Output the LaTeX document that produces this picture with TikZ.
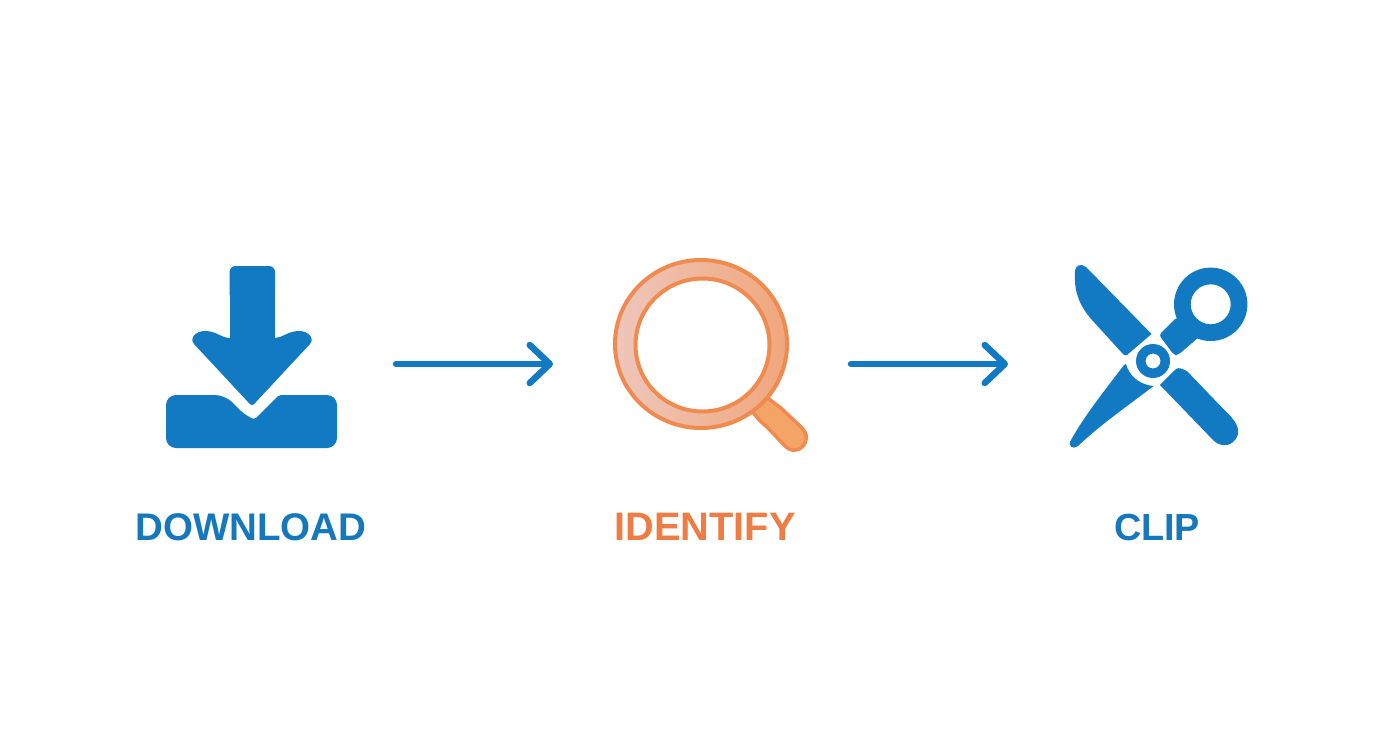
\documentclass[tikz,border=0pt]{standalone}
\usepackage{fontspec}
\setmainfont{Liberation Sans}
\usetikzlibrary{arrows.meta}
\definecolor{iconblue}{HTML}{1279C3}
\definecolor{labelblue}{HTML}{1678BC}
\definecolor{iconorange}{HTML}{F08A4E}
\definecolor{labelorange}{HTML}{EE7D45}
\definecolor{lensA}{HTML}{EEC6BC}
\definecolor{lensB}{HTML}{F0A77C}
\definecolor{grip}{HTML}{F5A468}
\tikzset{
  x=1pt,y=-1pt,
  anchorbox/.style={inner sep=0pt,outer sep=0pt,minimum height=1pt},
  flow/.style={draw=iconblue,line width=6.5pt,line cap=round,line join=round,
    -{Straight Barb[round,length=20pt,width=38pt,line width=6.5pt]}},
  steplabel/.style={inner sep=0pt,font=\fontsize{40pt}{40pt}\selectfont\bfseries,anchor=base},
  solidblue/.style={fill=iconblue,draw=none},
}
\begin{document}
\begin{tikzpicture}
\useasboundingbox (0,0) rectangle (1392,752);
\fill[white] (0,0) rectangle (1392,752);
% anchors of the three icons
\node[anchorbox,minimum width=171pt] (dl) at (251.5,364) {};
\node[anchorbox,minimum width=174pt] (id) at (701,364) {};
\node[anchorbox,minimum width=178pt] (cl) at (1159,364) {};
% download icon
\fill[solidblue,rounded corners=6pt] (229.5,300) -- (229.5,266) -- (275,266) -- (275,300) -- cycle;
\fill[solidblue] (229.5,285) rectangle (275,345);
\fill[solidblue]
  (229.5,338) .. controls (222,338) and (216,331) .. (205,331)
  .. controls (196,331) and (189,338) .. (194,344)
  -- (248,402) .. controls (251,406) and (253,406) .. (256,402)
  -- (310,344) .. controls (315,338) and (308,331) .. (299,331)
  .. controls (288,331) and (282,338) .. (275,338) -- cycle;
\fill[solidblue,rounded corners=10pt]
  (166,395) -- (225,395) -- (248,418) [sharp corners] -- (252,419) -- (256,418) [rounded corners=2pt] -- (279,395)
  [rounded corners=10pt] -- (337,395) -- (337,448) -- (166,448) -- cycle;
% magnifier handle
\draw[draw=iconorange,line width=3.5pt,fill=grip,line join=round]
  (767,397) .. controls (772,402) and (776,404) .. (782,409)
  -- (801,427) .. controls (808,434) and (808,441) .. (802,447)
  .. controls (796,452) and (790,451) .. (785,446)
  -- (768,428) .. controls (764,424) and (760,422) .. (752,411) -- cycle;
% magnifier ring
\shade[left color=lensA,right color=lensB,even odd rule]
  (701,344) ellipse [x radius=86,y radius=84] (701,345) ellipse [x radius=67,y radius=66.5];
\draw[iconorange,line width=4pt] (701,344) ellipse [x radius=86,y radius=84];
\draw[iconorange,line width=4pt] (702.5,345) ellipse [x radius=67,y radius=66.5];
% scissors
\fill[solidblue]
  (1075,272) .. controls (1075,265) and (1081,263) .. (1086,267)
  -- (1151.5,334) -- (1127,355) .. controls (1125,356) and (1124,355) .. (1123,354)
  -- (1092,320) .. controls (1078,304) and (1074,290) .. (1075,272) -- cycle;
\fill[solidblue,even odd rule]
  (1210.7,304.3) circle [radius=36.7] (1210.7,304.3) circle [radius=20];
\fill[solidblue,rounded corners=3pt]
  (1159,335) -- (1177,317) -- (1199,337) -- (1178,355) -- (1174,355) -- cycle;
\fill[solidblue,even odd rule]
  (1153,361) circle [radius=17] (1153,361) circle [radius=7.5];
\fill[solidblue]
  (1126,364) .. controls (1129,376) and (1140,385) .. (1153.5,386)
  .. controls (1125,408) and (1100,425) .. (1078,446)
  .. controls (1073,450) and (1067,446) .. (1071,440)
  .. controls (1085,415) and (1105,390) .. (1124,365) -- cycle;
\fill[solidblue,rounded corners=4pt]
  (1160,385) -- (1176,369) -- (1185,369) -- (1231,417);
\fill[solidblue]
  (1160,385) -- (1176,369) .. controls (1179,367) and (1183,369) .. (1185,371)
  -- (1232,418) .. controls (1240,427) and (1240,436) .. (1233,442)
  .. controls (1227,447) and (1220,446) .. (1214,441) -- cycle;
% connectors
\draw[flow,shorten <=59pt,shorten >=61pt] (dl.east) -- (id.west);
\draw[flow,shorten <=63pt,shorten >=62pt] (id.east) -- (cl.west);
% labels
\node[steplabel,text=labelblue] (t1) at (251,540) {\resizebox{231pt}{!}{DOWNLOAD}};
\node[steplabel,text=labelorange] (t2) at (705,540) {\resizebox{181pt}{!}{IDENTIFY}};
\node[steplabel,text=labelblue] (t3) at (1157,540) {\resizebox{86pt}{!}{CLIP}};
\end{tikzpicture}
\end{document}
